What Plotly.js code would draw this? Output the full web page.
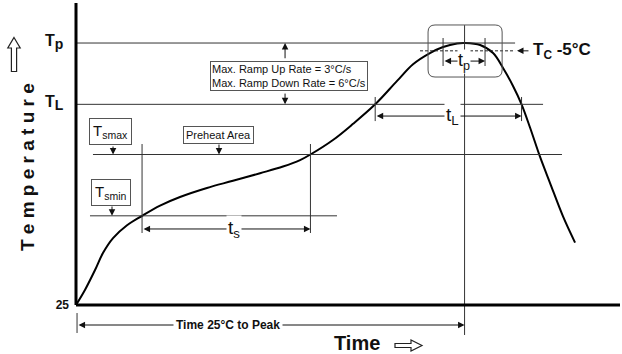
<!DOCTYPE html>
<html><head><meta charset="utf-8">
<script src="https://cdn.plot.ly/plotly-3.0.1.min.js"></script>
<style>html,body{margin:0;padding:0;background:#fff}</style>
</head><body><div id="chart" style="width:622px;height:354px"></div>
<script>
// Reflow profile (time in s, temperature in °C)
const profileTime = [0, 6.9, 14.7, 20.8, 28.6, 39.4, 51, 64.9, 80.3, 101.1, 121.2, 142.1, 159.8, 173, 181, 198.4, 213.9, 231, 247.9, 260.2, 273.3, 283.4, 294.2, 300, 312, 322, 329.7, 337.4, 344, 350.6, 358.3, 366, 376, 385.3];
const profileTemp = [25, 38.5, 56.4, 71.6, 85, 96.5, 105, 114.2, 121.9, 130, 136.4, 143.2, 149.2, 155, 160, 173, 187.5, 205, 226, 241, 251, 256.4, 259.6, 260, 258.2, 251, 237.6, 221.5, 205, 184, 157.8, 134.4, 104.5, 81];

// Temperature levels
const T_ROOM = 25, T_SMIN = 105, T_SMAX = 160, T_L = 205, T_P = 260, T_C5 = 253;
const levelTicks = [T_ROOM];
const levelLabels = ['<b>25</b>'];

// Key times
const tsStart = 51, tsEnd = 181, tLStart = 231, tLEnd = 344, tPeak = 300, tpStart = 283.4, tpEnd = 315.8;

// Guide lines: level, start time, end time
const guideLevel = [T_P, T_L, T_SMAX, T_SMIN];
const guideFrom = [0, 0, 13.1, 10.8];
const guideTo = [339, 360.6, 375.2, 201.5];

const FONT = 'Liberation Sans, Arial, sans-serif';
const LC = '#333';
const W = 622, H = 354, ML = 76, MR = 2;
const px2px = x => (x - ML) / (W - ML - MR);   // pixel -> paper x
const py2py = y => 1 - y / H;                   // pixel -> paper y

const shapes = [];
function hline(y, x0, x1, extra) { shapes.push(Object.assign({type:'line', xref:'x', yref:'y', x0:x0, x1:x1, y0:y, y1:y, line:{color:LC, width:1}}, extra||{})); }
function vline(x, y0, y1, extra) { shapes.push(Object.assign({type:'line', xref:'x', yref:'y', x0:x, x1:x, y0:y0, y1:y1, line:{color:LC, width:1}}, extra||{})); }

for (let i = 0; i < guideLevel.length; i++) hline(guideLevel[i], guideFrom[i], guideTo[i]);
hline(T_C5, 265.6, 339, {line:{color:'#222', width:1, dash:'3px,2px'}});
vline(tsStart, 169.4, 89.6);
vline(tsEnd, 169.4, 89.6);
vline(tPeak, 276.1, -1.9);
vline(tLStart, 211.6, 190);
vline(tLEnd, 211.6, 190);
vline(tpStart, 264.5, 239.4);
vline(tpEnd, 264.5, 239.4);
vline(0.8, 17.8, -0.1);
// axes
shapes.push({type:'line', xref:'paper', yref:'y', x0:0, x1:0, y0:T_ROOM, y1:296, line:{color:'#000', width:3}});
shapes.push({type:'line', xref:'x', yref:'y', x0:0, x1:420, y0:T_ROOM, y1:T_ROOM, line:{color:'#000', width:3}});
// rounded box around the peak
(function(){
  const x0 = 271.8, x1 = 329.0, y0 = 229.5, y1 = 276.2, rx = 5.4, ry = 6.3;
  const p = `M ${x0+rx},${y1} L ${x1-rx},${y1} Q ${x1},${y1} ${x1},${y1-ry} L ${x1},${y0+ry} Q ${x1},${y0} ${x1-rx},${y0} L ${x0+rx},${y0} Q ${x0},${y0} ${x0},${y0+ry} L ${x0},${y1-ry} Q ${x0},${y1} ${x0+rx},${y1} Z`;
  shapes.push({type:'path', xref:'x', yref:'y', path:p, line:{color:'#555', width:1}});
})();
// hollow arrows next to the axis titles
function hollowArrow(pts) {
  const d = pts.map((p, i) => (i ? 'L ' : 'M ') + px2px(p[0]).toFixed(5) + ',' + py2py(p[1]).toFixed(5)).join(' ') + ' Z';
  shapes.push({type:'path', xref:'paper', yref:'paper', path:d, fillcolor:'#fff', line:{color:'#222', width:1.2}});
}
hollowArrow([[14,37.5],[20.2,48],[16.6,48],[16.6,71.5],[11.4,71.5],[11.4,48],[7.8,48]]);
hollowArrow([[422,345.5],[411,340],[411,343.5],[395,343.5],[395,347.5],[411,347.5],[411,351]]);

const ann = [];
function arrow(xt, yt, xh, yh, both) {
  ann.push({x:xh, y:yh, ax:xt, ay:yt, xref:'x', yref:'y', axref:'x', ayref:'y', text:'', showarrow:true,
    arrowside: both ? 'end+start' : 'end', arrowhead:2, startarrowhead:2, arrowsize:1.3, startarrowsize:1.3,
    arrowwidth:1, arrowcolor:'#111', standoff:0, startstandoff:0});
}
function label(x, y, text, opts) {
  ann.push(Object.assign({x:x, y:y, xref:'x', yref:'y', text:text, showarrow:false, font:{family:FONT, size:18, color:'#111'}, bgcolor:'#fff', borderpad:1}, opts||{}));
}

arrow(tsStart, 93.2, tsEnd, 93.2, true);
arrow(tLStart, 194.5, tLEnd, 194.5, true);
arrow(tpStart, 243.8, tpEnd, 243.8, true);
arrow(0.8, 7.06, tPeak, 7.06, true);
arrow(161.4, 245, 161.4, T_P, false);
arrow(161.4, 216, 161.4, T_L, false);
arrow(28.6, 168.5, 28.6, T_SMAX, false);
arrow(110.4, 170.3, 110.4, T_SMAX, false);
arrow(27.8, 114.7, 27.8, T_SMIN, false);
arrow(350.5, T_C5, 340.5, T_C5, false);

label(122, 93.2, 't<sub>s</sub>', {font:{family:FONT, size:19, color:'#111'}});
label(291, 194.5, 't<sub>L</sub>', {font:{family:FONT, size:19, color:'#111'}});
label(299.6, 243.8, 't<sub>p</sub>', {font:{family:FONT, size:18, color:'#111'}, borderpad:0});
label(117.4, 7.06, 'Time 25°C to Peak', {font:{family:FONT, size:12, color:'#111', weight:'bold'}, borderpad:2});
label(164.8, 230.4, 'Max. Ramp Up Rate = 3°C/s<br>Max. Ramp Down Rate = 6°C/s', {font:{family:FONT, size:11, color:'#111'}, align:'left', bordercolor:'#555', borderwidth:1, borderpad:1});
label(27, 180.6, 'T<sub>smax</sub>', {font:{family:FONT, size:15, color:'#111'}, bordercolor:'#555', borderwidth:1, borderpad:3});
label(110.4, 177.5, 'Preheat Area', {font:{family:FONT, size:11, color:'#111'}, bordercolor:'#555', borderwidth:1, borderpad:2});
label(27, 125.5, 'T<sub>smin</sub>', {font:{family:FONT, size:15, color:'#111'}, bordercolor:'#555', borderwidth:1, borderpad:3});
label(351.8, T_C5, 'T<sub>C</sub> -5°C', {xanchor:'left', font:{family:FONT, size:17, color:'#111', weight:'bold'}, bgcolor:'rgba(0,0,0,0)', borderpad:0});
label(217.3, -9.5, 'Time', {font:{family:FONT, size:20, color:'#111', weight:'bold'}, bgcolor:'rgba(0,0,0,0)', borderpad:0});
// level labels on the temperature axis
ann.push({xref:'paper', yref:'y', x:px2px(65), y:T_P, xanchor:'right', yanchor:'middle', yshift:1, text:'T<sub><span style="font-size:14px">p</span></sub>', showarrow:false, font:{family:FONT, size:16, color:'#111', weight:'bold'}});
ann.push({xref:'paper', yref:'y', x:px2px(66), y:T_L, xanchor:'right', yanchor:'middle', yshift:1, text:'T<sub><span style="font-size:14px">L</span></sub>', showarrow:false, font:{family:FONT, size:16, color:'#111', weight:'bold'}});
ann.push({xref:'paper', yref:'y', x:px2px(15), y:148.3, text:'T e m p e r a t u r e', textangle:-90, showarrow:false, font:{family:FONT, size:19, color:'#111', weight:'bold'}});

const traces = [{
  x: profileTime, y: profileTemp, type:'scatter', mode:'lines',
  line:{color:'#000', width:2, shape:'spline', smoothing:1}, hoverinfo:'skip'
}];

const layout = {
  width:W, height:H, margin:{l:ML, r:MR, t:0, b:0},
  paper_bgcolor:'#fff', plot_bgcolor:'#fff', showlegend:false,
  xaxis:{range:[0,420], visible:false, fixedrange:true},
  yaxis:{range:[-18.95, 298.6], showgrid:false, zeroline:false, showline:false, ticks:'',
    tickvals:levelTicks, ticktext:levelLabels, tickfont:{family:FONT, size:12, color:'#111'}, ticklabelstandoff:6, fixedrange:true},
  shapes:shapes, annotations:ann
};
Plotly.newPlot('chart', traces, layout, {staticPlot:true, displayModeBar:false});
</script></body></html>
